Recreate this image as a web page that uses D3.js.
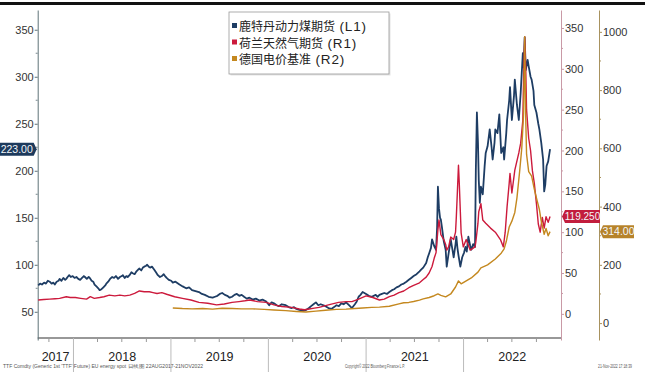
<!DOCTYPE html>
<html>
<head>
<meta charset="utf-8">
<script src="https://cdn.jsdelivr.net/npm/d3@7"></script>
<style>
  html, body { margin: 0; padding: 0; background: #fff; }
  svg { display: block; }
  .tick text { font-family: "Liberation Sans", Arial, sans-serif; }
</style>
</head>
<body>
<svg id="chart" width="645" height="374"></svg>
<script>
// Rotterdam coal futures, USD/t (left axis)
const coal = [
  ["2017-08-22",78],["2017-08-29",80],["2017-09-05",79],["2017-09-13",81],["2017-09-20",80],
  ["2017-09-27",83],["2017-10-04",82],["2017-10-11",80],["2017-10-18",81],["2017-10-23",79],
  ["2017-10-30",82],["2017-11-06",83],["2017-11-10",85],["2017-11-17",83],["2017-11-24",86],
  ["2017-12-01",84],["2017-12-05",85],["2017-12-10",87],["2017-12-16",89],["2017-12-22",87],
  ["2017-12-29",88],["2018-01-05",86],["2018-01-12",87],["2018-01-19",85],["2018-01-26",84],
  ["2018-02-02",86],["2018-02-09",88],["2018-02-13",87],["2018-02-20",85],["2018-02-27",87],
  ["2018-03-03",86],["2018-03-10",83],["2018-03-16",82],["2018-03-21",79],["2018-03-28",77],
  ["2018-04-04",75],["2018-04-09",73],["2018-04-16",74],["2018-04-23",76],["2018-04-30",78],
  ["2018-05-04",80],["2018-05-11",82],["2018-05-18",85],["2018-05-26",87],["2018-06-02",86],
  ["2018-06-09",88],["2018-06-17",85],["2018-06-24",87],["2018-07-01",88],["2018-07-05",89],
  ["2018-07-12",86],["2018-07-18",88],["2018-07-23",87],["2018-07-30",89],["2018-08-06",92],
  ["2018-08-11",91],["2018-08-18",90],["2018-08-25",93],["2018-09-01",95],["2018-09-05",96],
  ["2018-09-12",94],["2018-09-18",97],["2018-09-23",98],["2018-09-30",99],["2018-10-04",100],
  ["2018-10-10",98],["2018-10-15",97],["2018-10-22",98],["2018-10-30",95],["2018-11-06",92],
  ["2018-11-13",89],["2018-11-21",87],["2018-11-28",88],["2018-12-05",90],["2018-12-10",88],
  ["2018-12-16",86],["2018-12-24",84],["2019-01-02",83],["2019-01-08",81],["2019-01-18",82],
  ["2019-02-02",79],["2019-02-14",77],["2019-02-27",75],["2019-03-10",76],["2019-03-21",73],
  ["2019-04-03",72],["2019-04-16",71],["2019-04-27",69],["2019-05-08",68],["2019-05-22",66],
  ["2019-06-06",65],["2019-06-15",66],["2019-06-24",67],["2019-07-03",69],["2019-07-12",70],
  ["2019-07-22",68],["2019-07-31",67],["2019-08-09",65],["2019-08-18",66],["2019-08-27",68],
  ["2019-09-05",69],["2019-09-14",67],["2019-09-23",68],["2019-10-02",66],["2019-10-12",64],
  ["2019-10-22",65],["2019-11-03",63],["2019-11-15",64],["2019-11-28",62],["2019-12-10",63],
  ["2019-12-24",61],["2020-01-04",57],["2020-01-13",60],["2020-01-22",59],["2020-02-01",57],
  ["2020-02-09",56],["2020-02-20",58],["2020-03-06",57],["2020-03-17",55],["2020-03-28",54],
  ["2020-04-06",55],["2020-04-15",53],["2020-04-26",52],["2020-05-10",51],["2020-05-21",52],
  ["2020-06-01",54],["2020-06-09",56],["2020-06-18",58],["2020-06-27",60],["2020-07-06",57],
  ["2020-07-15",58],["2020-08-02",56],["2020-08-13",54],["2020-08-24",53],["2020-09-03",55],
  ["2020-09-12",57],["2020-09-21",56],["2020-09-30",59],["2020-10-09",58],["2020-10-18",60],
  ["2020-10-29",57],["2020-11-09",54],["2020-11-20",58],["2020-11-27",61],["2020-12-04",66],
  ["2020-12-11",68],["2020-12-19",71],["2021-01-01",69],["2021-01-11",67],["2021-01-22",66],
  ["2021-02-06",68],["2021-02-13",66],["2021-02-20",68],["2021-03-01",69],["2021-03-10",70],
  ["2021-03-20",69],["2021-03-29",71],["2021-04-08",73],["2021-04-16",74],["2021-04-25",76],
  ["2021-05-04",77],["2021-05-13",79],["2021-05-22",80],["2021-06-01",82],["2021-06-10",84],
  ["2021-06-19",86],["2021-06-28",88],["2021-07-09",90],["2021-07-20",93],["2021-07-27",95],
  ["2021-08-03",97],["2021-08-14",102],["2021-08-20",108],["2021-08-25",112],["2021-09-01",118],
  ["2021-09-05",127],["2021-09-13",120],["2021-09-20",116],["2021-09-24",140],["2021-09-27",183],
  ["2021-10-01",160],["2021-10-05",150],["2021-10-08",148],["2021-10-12",140],["2021-10-19",125],
  ["2021-10-26",116],["2021-10-30",98],["2021-11-06",112],["2021-11-14",127],["2021-11-21",115],
  ["2021-11-25",108],["2021-12-02",122],["2021-12-05",130],["2021-12-09",118],["2021-12-13",110],
  ["2021-12-20",98],["2021-12-27",108],["2022-01-03",113],["2022-01-08",119],["2022-01-13",114],
  ["2022-01-19",130],["2022-01-26",120],["2022-01-30",116],["2022-02-06",122],["2022-02-13",119],
  ["2022-02-16",200],["2022-02-20",262],["2022-02-24",230],["2022-02-27",190],["2022-03-03",166],
  ["2022-03-07",183],["2022-03-14",175],["2022-03-21",205],["2022-03-25",219],["2022-04-01",226],
  ["2022-04-09",244],["2022-04-16",225],["2022-04-20",212],["2022-04-27",230],["2022-04-30",244],
  ["2022-05-08",240],["2022-05-15",260],["2022-05-22",219],["2022-05-30",225],["2022-06-02",212],
  ["2022-06-10",240],["2022-06-13",254],["2022-06-21",275],["2022-06-24",289],["2022-07-01",254],
  ["2022-07-09",280],["2022-07-12",297],["2022-07-20",270],["2022-07-27",254],["2022-08-03",283],
  ["2022-08-11",325],["2022-08-14",310],["2022-08-18",342],["2022-08-22",307],["2022-08-29",318],
  ["2022-09-02",311],["2022-09-09",300],["2022-09-13",297],["2022-09-20",285],["2022-09-23",270],
  ["2022-10-01",262],["2022-10-08",250],["2022-10-12",244],["2022-10-19",230],["2022-10-26",212],
  ["2022-10-30",178],["2022-11-03",185],["2022-11-08",205],["2022-11-14",210],["2022-11-21",223]
];

// Dutch TTF gas futures, EUR/MWh (right axis 1)
const ttf = [
  ["2017-08-22",17],["2017-09-12",17.5],["2017-10-04",18],["2017-10-24",18.5],["2017-11-10",19],
  ["2017-12-05",21],["2017-12-20",20],["2018-01-08",20],["2018-01-28",19],["2018-02-19",18],
  ["2018-03-05",21],["2018-03-20",19],["2018-04-09",20],["2018-04-25",21],["2018-05-15",23],
  ["2018-06-05",22],["2018-06-24",23],["2018-07-12",22],["2018-07-31",23],["2018-08-18",25],
  ["2018-09-05",28],["2018-09-23",27],["2018-10-12",27],["2018-10-26",26],["2018-11-10",25],
  ["2018-11-28",26],["2018-12-16",24],["2019-01-15",21],["2019-02-13",19],["2019-03-17",17],
  ["2019-04-16",14],["2019-05-19",13],["2019-06-21",11],["2019-07-20",12],["2019-08-18",14],
  ["2019-09-13",15],["2019-10-05",16],["2019-10-23",17],["2019-11-21",15],["2019-12-24",14],
  ["2020-01-22",11],["2020-02-20",9],["2020-03-28",8],["2020-04-26",6],["2020-05-15",5],
  ["2020-06-02",6],["2020-06-21",7],["2020-07-09",8],["2020-08-02",10],["2020-08-24",12],
  ["2020-09-20",14],["2020-10-18",15],["2020-11-09",15],["2020-12-04",18],["2021-01-01",22],
  ["2021-01-26",20],["2021-02-20",17],["2021-03-10",18],["2021-03-29",21],["2021-04-16",23],
  ["2021-05-04",26],["2021-05-22",28],["2021-06-10",32],["2021-06-28",35],["2021-07-20",38],
  ["2021-08-03",42],["2021-08-14",45],["2021-08-25",50],["2021-09-05",58],["2021-09-13",68],
  ["2021-09-20",75],["2021-09-27",103],["2021-10-01",115],["2021-10-08",97],["2021-10-19",91],
  ["2021-10-26",85],["2021-10-30",78],["2021-11-06",82],["2021-11-14",94],["2021-11-25",91],
  ["2021-12-02",100],["2021-12-05",119],["2021-12-09",150],["2021-12-13",182],["2021-12-16",160],
  ["2021-12-20",125],["2021-12-23",99],["2021-12-31",82],["2022-01-11",91],["2022-01-26",78],
  ["2022-02-13",82],["2022-02-16",88],["2022-02-24",111],["2022-02-27",125],["2022-03-07",135],
  ["2022-03-14",115],["2022-03-25",111],["2022-04-12",105],["2022-04-30",100],["2022-05-19",91],
  ["2022-05-30",82],["2022-06-06",100],["2022-06-13",131],["2022-06-21",160],["2022-06-24",172],
  ["2022-07-01",148],["2022-07-12",176],["2022-07-27",197],["2022-08-03",209],["2022-08-11",237],
  ["2022-08-14",290],["2022-08-18",339],["2022-08-22",300],["2022-08-25",250],["2022-09-02",215],
  ["2022-09-09",200],["2022-09-16",175],["2022-09-23",160],["2022-10-01",135],["2022-10-08",110],
  ["2022-10-15",100],["2022-10-23",118],["2022-10-30",105],["2022-11-06",119],["2022-11-14",112],
  ["2022-11-21",119.25]
];

// German baseload power, EUR/MWh (right axis 2)
const power = [
  ["2019-01-08",52],["2019-02-13",50],["2019-03-21",49],["2019-04-30",50],["2019-06-06",48],
  ["2019-07-12",51],["2019-08-18",50],["2019-09-23",49],["2019-11-03",49],["2019-12-16",47],
  ["2020-01-22",45],["2020-03-06",43],["2020-04-15",40],["2020-05-21",38],["2020-06-27",41],
  ["2020-08-02",44],["2020-09-12",47],["2020-10-18",48],["2020-11-20",50],["2020-12-19",52],
  ["2021-01-22",54],["2021-02-20",55],["2021-03-29",58],["2021-05-04",66],["2021-05-22",70],
  ["2021-06-10",71],["2021-06-28",74],["2021-07-20",79],["2021-08-03",83],["2021-08-25",88],
  ["2021-09-13",94],["2021-09-27",100],["2021-10-08",95],["2021-10-26",90],["2021-11-14",100],
  ["2021-12-02",124],["2021-12-13",145],["2021-12-23",135],["2022-01-11",145],["2022-01-30",155],
  ["2022-02-24",175],["2022-03-07",190],["2022-04-01",200],["2022-04-30",220],["2022-05-22",240],
  ["2022-06-02",255],["2022-06-10",280],["2022-06-21",330],["2022-07-01",350],["2022-07-12",380],
  ["2022-07-20",430],["2022-07-30",520],["2022-08-07",600],["2022-08-14",720],["2022-08-18",983],
  ["2022-08-22",700],["2022-08-25",580],["2022-09-02",520],["2022-09-13",505],["2022-09-23",460],
  ["2022-10-01",430],["2022-10-12",390],["2022-10-19",350],["2022-10-30",305],["2022-11-06",325],
  ["2022-11-14",300],["2022-11-21",314]
];

const legendNames = [["鹿特丹动力煤期货", " (L1)"], ["荷兰天然气期货", " (R1)"], ["德国电价基准", " (R2)"]];
const leftTicks = [50, 100, 150, 200, 250, 300, 350];
const r1Ticks = [0, 50, 100, 150, 200, 250, 300, 350];
const r2Ticks = [0, 200, 400, 600, 800, 1000];
const years = [2017, 2018, 2019, 2020, 2021, 2022];
const footLeft = "TTF Comdty (Generic 1st 'TTF' Future) EU energy spot  日线图 22AUG2017-21NOV2022";
const footMid = "Copyright© 2022 Bloomberg Finance L.P.";
const footRight = "21-Nov-2022 17:18:39";

const colors = { coal: "#1e3d64", ttf: "#cc1a3c", power: "#c4881f" };

const svg = d3.select("#chart");
const parse = d3.utcParse("%Y-%m-%d");

const plot = { left: 37.7, right: 561, top: 10, bottom: 340, base: 338 };
const r2x = 599;

const x = d3.scaleUtc()
  .domain([parse("2017-08-20"), parse("2023-01-01")])
  .range([plot.left, plot.right]);
const yL = d3.scaleLinear().domain([20, 371]).range([plot.bottom, plot.top]);
const yR1 = d3.scaleLinear().domain([-32, 372]).range([plot.bottom, plot.top]);
const yR2 = d3.scaleLinear().domain([-58, 1075]).range([plot.bottom, plot.top]);

// top rule
svg.append("rect").attr("x", 0).attr("y", 2).attr("width", 645).attr("height", 3).attr("fill", "#111");

// x axis base line
svg.append("line")
  .attr("x1", plot.left).attr("x2", plot.right)
  .attr("y1", plot.base).attr("y2", plot.base)
  .attr("stroke", "#333").attr("stroke-width", 1.2);

// quarterly ticks and year separators
const quarters = d3.utcMonth.every(3).range(x.domain()[0], x.domain()[1]);
svg.append("g").selectAll("line").data(quarters).join("line")
  .attr("x1", d => x(d)).attr("x2", d => x(d))
  .attr("y1", plot.base).attr("y2", d => d.getUTCMonth() === 0 ? 372 : plot.base + 4)
  .attr("stroke", d => d.getUTCMonth() === 0 ? "#bbb" : "#999")
  .attr("stroke-width", 1);

svg.append("g").selectAll("text").data(years).join("text")
  .attr("x", yr => {
    const a = Math.max(x(Date.UTC(yr, 0, 1)), plot.left);
    const b = Math.min(x(Date.UTC(yr + 1, 0, 1)), plot.right);
    return (a + b) / 2;
  })
  .attr("y", 361)
  .attr("text-anchor", "middle")
  .attr("font-family", "'Liberation Sans', sans-serif")
  .attr("font-size", 12.5)
  .attr("fill", "#222")
  .text(d => d);

// axes
function styleAxis(g, lineColor) {
  g.select(".domain").attr("stroke", lineColor);
  g.selectAll(".tick line").attr("stroke", lineColor);
  g.selectAll(".tick text").attr("fill", "#333").attr("font-size", 11);
}
function minorTicks(scale, values, step) {
  const out = [];
  values.forEach(v => { const m = v + step; if (m <= scale.domain()[1]) out.push(m); });
  return out;
}

const gL = svg.append("g").attr("transform", `translate(${plot.left},0)`)
  .call(d3.axisLeft(yL).tickValues(leftTicks).tickSize(3).tickPadding(1).tickSizeOuter(0));
gL.append("g").selectAll("line").data(minorTicks(yL, leftTicks, 25)).join("line")
  .attr("x1", -2).attr("x2", 0).attr("y1", d => yL(d)).attr("y2", d => yL(d)).attr("stroke", "#7a8a90");
styleAxis(gL, "#5f7378");

const gR1 = svg.append("g").attr("transform", `translate(${plot.right},0)`)
  .call(d3.axisRight(yR1).tickValues(r1Ticks).tickSize(3).tickPadding(1).tickSizeOuter(0));
gR1.append("g").selectAll("line").data(minorTicks(yR1, r1Ticks, 25)).join("line")
  .attr("x1", 0).attr("x2", 2).attr("y1", d => yR1(d)).attr("y2", d => yR1(d)).attr("stroke", "#c99aa6");
styleAxis(gR1, "#c99aa6");

const gR2 = svg.append("g").attr("transform", `translate(${r2x},0)`)
  .call(d3.axisRight(yR2).tickValues(r2Ticks).tickFormat(d3.format("d")).tickSize(3).tickPadding(1).tickSizeOuter(0));
gR2.append("g").selectAll("line").data(minorTicks(yR2, r2Ticks, 100)).join("line")
  .attr("x1", 0).attr("x2", 2).attr("y1", d => yR2(d)).attr("y2", d => yR2(d)).attr("stroke", "#a8925e");
styleAxis(gR2, "#a8925e");

// series lines
function drawLine(data, yScale, color, width) {
  const line = d3.line().x(d => x(parse(d[0]))).y(d => yScale(d[1]));
  svg.append("path").datum(data)
    .attr("d", line).attr("fill", "none")
    .attr("stroke", color).attr("stroke-width", width)
    .attr("stroke-linejoin", "round");
}
drawLine(coal, yL, colors.coal, 1.8);
drawLine(ttf, yR1, colors.ttf, 1.4);
drawLine(power, yR2, colors.power, 1.4);

// last-value tags
function tag(value, yScale, tipX, side, fill, text, width, fontSize) {
  const y = yScale(value), h = 13, p = 3;
  let pts;
  if (side === "left") {
    pts = [[tipX, y], [tipX - p, y - h / 2], [tipX - p - width, y - h / 2], [tipX - p - width, y + h / 2], [tipX - p, y + h / 2]];
  } else {
    pts = [[tipX, y], [tipX + p, y - h / 2], [tipX + p + width, y - h / 2], [tipX + p + width, y + h / 2], [tipX + p, y + h / 2]];
  }
  svg.append("polygon").attr("points", pts.map(q => q.join(",")).join(" ")).attr("fill", fill);
  svg.append("text")
    .attr("x", side === "left" ? tipX - p - width / 2 : tipX + p + width / 2)
    .attr("y", y + 3.8)
    .attr("text-anchor", "middle")
    .attr("font-family", "'Liberation Sans', sans-serif")
    .attr("font-size", fontSize)
    .attr("fill", "#f2f6fa")
    .text(text);
}
const lastCoal = coal[coal.length - 1][1];
const lastTtf = ttf[ttf.length - 1][1];
const lastPower = power[power.length - 1][1];
tag(lastCoal, yL, plot.left - 1, "left", "#1d3a5c", lastCoal.toFixed(2), 34, 10.5);
tag(lastTtf, yR1, plot.right + 1, "right", "#c21d3d", lastTtf.toFixed(3), 35, 10);
tag(lastPower, yR2, r2x + 1, "right", "#b7832a", lastPower.toFixed(2), 31, 10.5);

// legend
const lg = svg.append("g").attr("transform", "translate(229,12)");
lg.append("rect").attr("x", 1.5).attr("y", 1.5).attr("width", 160).attr("height", 62).attr("fill", "#e4e4e4");
lg.append("rect").attr("width", 160).attr("height", 62).attr("fill", "#fff").attr("stroke", "#9a9a9a").attr("stroke-width", 0.8);
const legColors = [colors.coal, colors.ttf, colors.power];
legendNames.forEach((name, i) => {
  const cy = 14 + i * 16.5;
  lg.append("rect").attr("x", 3).attr("y", cy - 3).attr("width", 5).attr("height", 5).attr("fill", legColors[i]);
  const t = lg.append("text").attr("x", 10).attr("y", cy + 5).attr("fill", "#222");
  t.append("tspan").attr("font-family", "'Noto Sans CJK SC', sans-serif").attr("font-size", 12).text(name[0]);
  t.append("tspan").attr("font-family", "'Liberation Sans', sans-serif").attr("font-size", 13.5)
    .attr("letter-spacing", 0.8).text(name[1]);
});

// footer
const foot = svg.append("g")
  .attr("font-family", "'Liberation Sans', sans-serif")
  .attr("font-size", 4.5).attr("fill", "#555");
foot.append("text").attr("x", 3).attr("y", 368).attr("textLength", 200).attr("lengthAdjust", "spacingAndGlyphs").text(footLeft);
foot.append("text").attr("x", 345).attr("y", 368).attr("textLength", 60).attr("lengthAdjust", "spacingAndGlyphs").text(footMid);
foot.append("text").attr("x", 598).attr("y", 368).attr("textLength", 34).attr("lengthAdjust", "spacingAndGlyphs").text(footRight);
</script>
</body>
</html>
